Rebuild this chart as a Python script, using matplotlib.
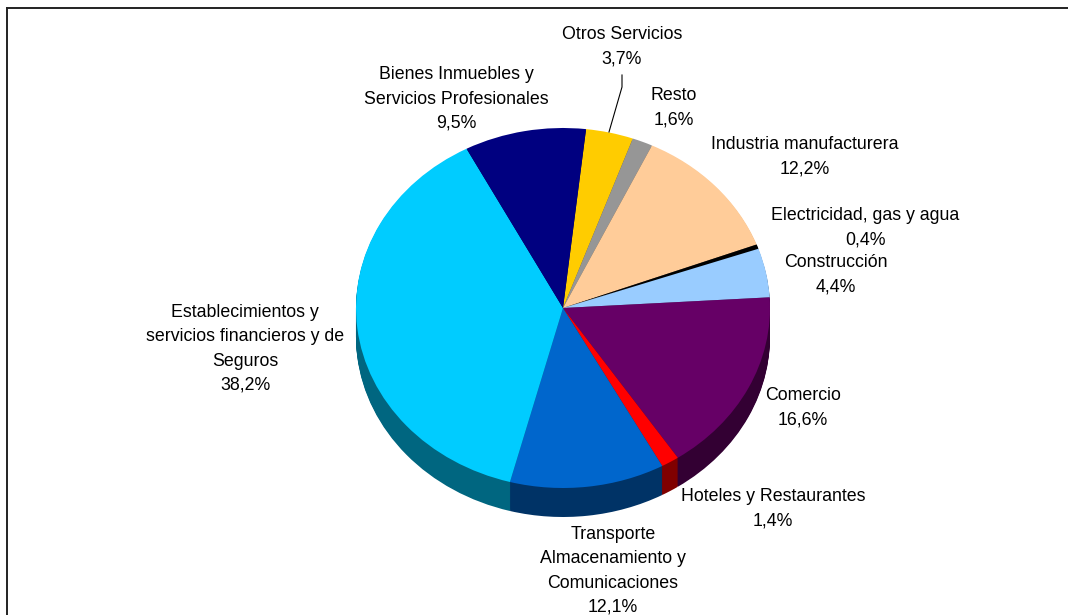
import matplotlib
matplotlib.use("Agg")
import matplotlib.pyplot as plt

plt.rcParams["font.family"] = ["Liberation Sans", "DejaVu Sans"]

# clockwise from the top of the pie
sectors = ["Otros Servicios", "Resto", "Industria manufacturera", "Electricidad, gas y agua",
           "Construcción", "Comercio", "Hoteles y Restaurantes",
           "Transporte\nAlmacenamiento y\nComunicaciones",
           "Establecimientos y\nservicios financieros y de\nSeguros",
           "Bienes Inmuebles y\nServicios Profesionales"]
shares = [3.7, 1.6, 12.2, 0.4, 4.4, 16.6, 1.4, 12.1, 38.2, 9.5]
top_colors = ["#FFCC00", "#969696", "#FFCC99", "#000000", "#99CCFF",
              "#660066", "#FF0000", "#0066CC", "#00CCFF", "#000080"]
side_colors = ["#806600", "#4B4B4B", "#80664D", "#000000", "#4D6680",
               "#330033", "#800000", "#003366", "#006680", "#000040"]

# label centres in pixels
label_x = [622, 674, 805, 865, 836, 803, 773, 613, 245, 456]
label_y = [47, 108, 157, 228, 275, 408, 509, 571, 349, 99]

W, H = 1068, 615
CX, CY = 563, 308   # pie centre
RX, RY = 207, 180   # ellipse radii
DEPTH = 29
START = 83.6

fig = plt.figure(figsize=(W / 100, H / 100), dpi=100)
ax = fig.add_axes([0, 0, 1, 1])

# side wall: the same pie stacked downward in darker colours
for d in range(DEPTH, 0, -1):
    ax.pie(shares, colors=side_colors, startangle=START, counterclock=False,
           center=(0, -d / RY), radius=1, frame=True,
           wedgeprops={"linewidth": 0.5, "edgecolor": "none"})

ax.pie(shares, colors=top_colors, startangle=START, counterclock=False,
       center=(0, 0), radius=1, frame=True,
       wedgeprops={"linewidth": 0})

# pie radius 1 spans RX by RY pixels, so the circle comes out tilted
ax.set_aspect("auto")
ax.set_xlim(-CX / RX, (W - CX) / RX)
ax.set_ylim((CY - H) / RY, CY / RY)
ax.axis("off")

for name, share, x, y in zip(sectors, shares, label_x, label_y):
    txt = name + "\n" + f"{share:.1f}%".replace(".", ",")
    fig.text(x / W, 1 - y / H, txt, ha="center", va="center", fontsize=12.8,
             color="black", linespacing=1.56)

# leader line for Otros Servicios
fig.add_artist(plt.Line2D([622 / W, 622 / W, 609 / W], [1 - 75 / H, 1 - 87 / H, 1 - 132 / H],
                          color="black", lw=0.8))

# chart border: only the top and left edges fall inside the image
fig.add_artist(plt.Line2D([7 / W, 1], [1 - 8 / H, 1 - 8 / H], color="#222222", lw=1.4))
fig.add_artist(plt.Line2D([7 / W, 7 / W], [1 - 8 / H, 0], color="#222222", lw=1.4))

fig.savefig("out.png", dpi=100)
